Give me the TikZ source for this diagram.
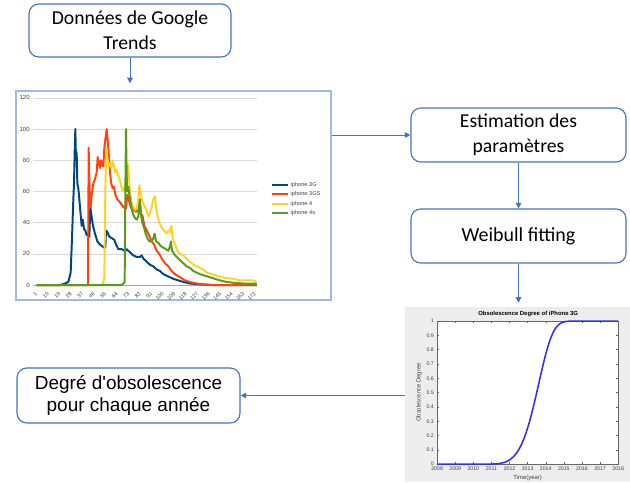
\documentclass[tikz,border=0pt]{standalone}
\usepackage{fontspec}
\usetikzlibrary{arrows.meta}
\newfontfamily\carl{Carlito}
\newfontfamily\lsans{Liberation Sans}
\definecolor{boxblue}{HTML}{4472C4}
\definecolor{framblue}{HTML}{A4B8E0}
\definecolor{sA}{HTML}{004586}
\definecolor{sB}{HTML}{FF420E}
\definecolor{sC}{HTML}{FFD320}
\definecolor{sD}{HTML}{579D1C}
\definecolor{mblue}{HTML}{3030F0}
\tikzset{
  flowbox/.style={draw=boxblue, line width=0.8pt, rounded corners=7pt, fill=white, align=center},
  conn/.style={draw=boxblue, line width=0.7pt, -{Triangle[length=4pt,width=4pt]}},
  series/.style={line width=1.4pt, line join=round},
  tiny/.style={font=\lsans\fontsize{4.3}{5}\selectfont, text=black!75, inner sep=1pt},
  mtiny/.style={font=\lsans\fontsize{3.7}{4}\selectfont, text=black!75, inner sep=0.6pt}
}
\begin{document}
\begin{tikzpicture}[x=0.025cm, y=-0.025cm]
\useasboundingbox (0,0) rectangle (630,482);

% flow boxes
\node[flowbox, minimum width=5.05cm, minimum height=1.325cm,
      font=\carl\fontsize{14}{17.5}\selectfont] (top) at (130,30.5) {Données de Google\\Trends};
\node[flowbox, minimum width=5.375cm, minimum height=1.35cm,
      font=\carl\fontsize{14}{17.5}\selectfont] (est) at (518.5,135) {Estimation des\\paramètres};
\node[flowbox, minimum width=5.375cm, minimum height=1.35cm,
      font=\carl\fontsize{14.2}{17.5}\selectfont] (weib) at (518.5,236) {Weibull fitting};
\node[flowbox, minimum width=5.575cm, minimum height=1.375cm,
      font=\lsans\fontsize{13.5}{15.8}\selectfont] (deg) at (128.5,395.5) {Degré d'obsolescence\\pour chaque année};

% chart frames
\node[draw=framblue, line width=0.9pt, fill=white, minimum width=7.875cm, minimum height=5.225cm, inner sep=0] (chart1) at (173.5,195.5) {};
\node[draw=none, fill=black!7, minimum width=5.625cm, minimum height=4.375cm, inner sep=0] (chart2) at (517.5,394.5) {};

% connectors
\draw[conn, shorten >=0.175cm] (top.south) -- (top.south |- chart1.north);
\draw[conn] (chart1.east |- est.west) -- (est.west);
\draw[conn] (est.south) -- (weib.north);
\draw[conn, shorten >=0.1cm] (weib.south) -- (weib.south |- chart2.north);
\draw[conn] (chart2.west |- deg.east) -- (deg.east);

% ---------- chart 1 (Google Trends) ----------
\begin{scope}[yshift=-7.125cm, x=0.008333cm, y=0.039cm]
  \foreach \v in {20,40,...,120} \draw[black!15, line width=0.4pt] (100,\v) -- (770,\v);
  \draw[black!35, line width=0.5pt] (100,0) -- (770,0);
  \foreach \v in {0,20,...,120} \node[tiny, anchor=east] at (94,\v) {\v};
  \foreach \i [count=\k from 0] in {1,10,19,28,37,46,55,64,73,82,91,100,109,118,127,136,145,154,163,172}
    \node[tiny, anchor=north east, rotate=45, font=\lsans\fontsize{3.8}{4}\selectfont] at ({105+\k*34.5},-2.5) {\i};
  % iPhone 3G
  \draw[series, sA] (110,0) -- (180,0) -- (195,1) -- (205,2) -- (212,8) -- (216,30) -- (220,55) -- (222,65) -- (224,85) -- (226,100) -- (228,80) -- (230,85) -- (232,65) -- (235,62) -- (238,55) -- (242,45) -- (245,38) -- (248,42) -- (252,36) -- (256,35) -- (260,32) -- (265,33) -- (268,31) -- (271,50) -- (274,45) -- (279,38) -- (285,33) -- (292,28) -- (300,26) -- (306,25) -- (313,24) -- (316,24) -- (318,35) -- (322,34) -- (328,31) -- (336,30) -- (343,29) -- (348,26) -- (355,23) -- (365,23) -- (375,22) -- (380,23) -- (390,21) -- (400,19) -- (410,18) -- (420,18) -- (425,19) -- (430,17) -- (440,15) -- (450,13) -- (460,12) -- (470,10) -- (480,9) -- (490,7) -- (500,6) -- (510,5) -- (520,4) -- (535,3) -- (550,2) -- (570,1) -- (600,0.5) -- (640,0) -- (770,0);
  % iPhone 3GS
  \draw[series, sB] (110,0) -- (264,0) -- (266,88) -- (269,60) -- (272,50) -- (275,58) -- (280,65) -- (285,68) -- (290,72) -- (293,82) -- (297,78) -- (300,75) -- (303,80) -- (306,77) -- (310,76) -- (313,88) -- (317,95) -- (320,100) -- (323,93) -- (327,82) -- (330,72) -- (334,65) -- (338,62) -- (342,63) -- (346,58) -- (352,55) -- (360,53) -- (370,50) -- (378,49) -- (382,58) -- (386,55) -- (392,50) -- (400,48) -- (408,47) -- (415,48) -- (420,50) -- (423,46) -- (428,44) -- (433,38) -- (440,35) -- (447,32) -- (455,28) -- (462,26) -- (470,22) -- (478,20) -- (485,17) -- (495,14) -- (505,12) -- (515,9) -- (525,7) -- (540,5) -- (555,3) -- (570,2) -- (590,1) -- (610,0.5) -- (640,0) -- (770,0);
  % iPhone 4
  \draw[series, sC] (110,0) -- (305,0) -- (310,2) -- (313,5) -- (316,60) -- (319,88) -- (322,82) -- (326,76) -- (330,78) -- (334,75) -- (338,80) -- (342,76) -- (346,72) -- (350,74) -- (355,70) -- (360,67) -- (365,62) -- (370,60) -- (375,64) -- (380,62) -- (383,78) -- (386,72) -- (390,60) -- (395,52) -- (400,50) -- (405,48) -- (410,49) -- (415,55) -- (418,64) -- (421,60) -- (425,55) -- (430,52) -- (435,50) -- (440,47) -- (445,44) -- (450,46) -- (455,50) -- (460,55) -- (465,57) -- (468,50) -- (472,45) -- (478,40) -- (485,37) -- (492,35) -- (500,33) -- (505,35) -- (510,34) -- (514,38) -- (518,30) -- (525,26) -- (532,22) -- (540,20) -- (550,19) -- (560,17) -- (570,15) -- (580,13) -- (590,12) -- (600,11) -- (610,10) -- (620,8) -- (635,7) -- (650,6) -- (665,5) -- (680,4.5) -- (700,4) -- (720,3) -- (740,3) -- (760,3) -- (770,2);
  % iPhone 4s
  \draw[series, sD] (110,0) -- (365,0) -- (370,1) -- (374,2) -- (376,60) -- (378,100) -- (380,70) -- (382,60) -- (385,63) -- (388,58) -- (392,53) -- (396,48) -- (400,45) -- (405,43) -- (410,42) -- (415,44) -- (418,52) -- (420,55) -- (423,45) -- (427,40) -- (432,37) -- (437,33) -- (442,30) -- (448,28) -- (455,28) -- (460,30) -- (464,33) -- (468,28) -- (475,27) -- (482,25) -- (490,24) -- (498,23) -- (505,22) -- (510,25) -- (513,28) -- (516,22) -- (522,20) -- (530,18) -- (540,16) -- (550,14) -- (560,12) -- (570,11) -- (580,9) -- (590,8) -- (600,7) -- (615,6) -- (630,5) -- (645,4) -- (660,3) -- (680,2) -- (700,1.5) -- (730,1) -- (770,1);
\end{scope}

% legend of chart 1
\foreach \c/\t/\yy in {sA/iphone 3G/184.7, sB/iphone 3GS/194, sC/iphone 4/203.7, sD/iphone 4s/212.7}{
  \draw[\c, line width=1.3pt] (272,\yy) -- (288,\yy);
  \node[tiny, anchor=west, font=\lsans\fontsize{4}{5}\selectfont] at (289,\yy) {\t};
}

% ---------- chart 2 (Weibull CDF) ----------
\begin{scope}[xshift=10.925cm, yshift=-11.6cm, x=0.4525cm, y=3.575cm]
  \fill[white] (0,0) rectangle (10,1);
  \foreach \i in {0,...,10}{
    \draw[black!60, line width=0.3pt] (\i,0) -- (\i,0.015);
    \draw[black!60, line width=0.3pt] (\i,1) -- (\i,0.985);
    \pgfmathtruncatemacro{\yr}{2008+\i}
    \node[mtiny, anchor=north] at (\i,-0.012) {\yr};
  }
  \foreach \v/\l in {0/0,0.1/0.1,0.2/0.2,0.3/0.3,0.4/0.4,0.5/0.5,0.6/0.6,0.7/0.7,0.8/0.8,0.9/0.9,1/1}{
    \draw[black!60, line width=0.3pt] (0,\v) -- (0.12,\v);
    \draw[black!60, line width=0.3pt] (10,\v) -- (9.88,\v);
    \node[mtiny, anchor=east] at (-0.12,\v) {\l};
  }
  \draw[black!60, line width=0.35pt] (0,0) rectangle (10,1);
  \draw[mblue, line width=1.1pt, line join=round] (0,0) -- (2.3,0) -- plot[domain=2.3:7.6, samples=90] (\x,{1-exp(-((\x-2)/3.737)^5.6)}) -- (10,1);
  \node[font=\lsans\bfseries\fontsize{4.2}{5}\selectfont, inner sep=0, anchor=south] at (5.03,1.025) {Obsolescence Degree of iPhone 3G};
  \node[mtiny, font=\lsans\fontsize{4.2}{5}\selectfont, rotate=90] at (-1.0,0.5) {Obsolescence Degree};
  \node[mtiny, font=\lsans\fontsize{4.2}{5}\selectfont] at (5,-0.098) {Time(year)};
\end{scope}
\end{tikzpicture}
\end{document}
